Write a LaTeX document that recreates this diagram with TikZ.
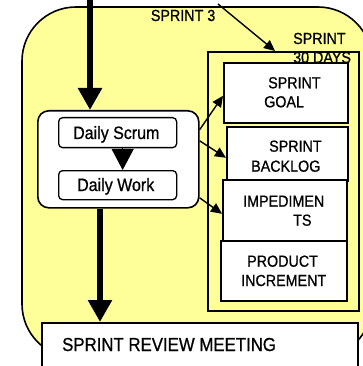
\documentclass[tikz,border=0pt]{standalone}
\usepackage{fontspec}
\setmainfont{Liberation Sans}[FakeBold=0.8]
\usetikzlibrary{arrows.meta}
\definecolor{sprintyellow}{HTML}{FFFF99}
\newcommand{\tall}[1]{\scalebox{1}[1.12]{#1}}
\begin{document}
\begin{tikzpicture}[x=1pt,y=-1pt,
  panel/.style={draw, line width=1.6pt, fill=white, inner sep=0pt, anchor=north west},
  lbl/.style={anchor=base west, inner sep=0pt, font=\fontsize{14.3}{16}\selectfont},
  thinarrow/.style={line width=1.4pt, -{Triangle[length=11pt,width=10pt]}},
  thickarrow/.style={line width=6pt, -{Triangle[length=22pt,width=23pt]}}]
\useasboundingbox (0,0) rectangle (363,366);
\clip (0,0) rectangle (363,366);

% sprint area
\draw[line width=1.6pt, fill=sprintyellow, rounded corners=54pt] (22,7) rectangle (372,358);

% 30-day sprint frame and its caption
\node[panel, fill=sprintyellow, minimum width=151pt, minimum height=259pt] (sprint) at (207,51) {};
\node[lbl] (capA) at (293,44) {\tall{SPRINT}};
\node[lbl] (capB) at (293,63) {\tall{30 DAYS}};

% artefacts
\node[panel, minimum width=124pt, minimum height=60pt] (goal) at (223,62) {};
\node[lbl] at (268,88.3) {\tall{SPRINT}};
\node[lbl] at (264,107.3) {\tall{GOAL}};

\node[panel, minimum width=121pt, minimum height=54pt] (backlog) at (226,126) {};
\node[lbl] at (269,151.7) {\tall{SPRINT}};
\node[lbl] at (251,171.7) {\tall{BACKLOG}};

\node[panel, minimum width=124pt, minimum height=61pt] (imped) at (222,179) {};
\node[lbl] at (243,206.7) {\tall{IMPEDIMEN}};
\node[lbl] at (293,225.7) {\tall{TS}};

\node[panel, minimum width=126pt, minimum height=60pt] (product) at (220,240) {};
\node[lbl] at (247,266.7) {\tall{PRODUCT}};
\node[lbl] at (241,286) {\tall{INCREMENT}};

% daily cycle
\node[panel, rounded corners=11pt, minimum width=161pt, minimum height=97pt] (daily) at (37,110) {};
\node[panel, line width=1.3pt, rounded corners=4pt, minimum width=118pt, minimum height=30pt] (scrum) at (58,117) {};
\node[lbl, font=\fontsize{16}{18}\selectfont] at (73,139) {\tall{Daily Scrum}};
\node[panel, line width=1.3pt, rounded corners=4pt, minimum width=118pt, minimum height=29pt] (work) at (58,170) {};
\node[lbl, font=\fontsize{16}{18}\selectfont] at (77,191) {\tall{Daily Work}};
\draw[line width=1pt, -{Triangle[length=21pt,width=22pt]}] ([xshift=5pt]scrum.south) -- ([xshift=5pt]work.north);

% review meeting
\node[panel, minimum width=316pt, minimum height=46pt] (review) at (41,322) {};
\node[lbl, font=\fontsize{16.8}{19}\selectfont] at (62,351) {\tall{SPRINT REVIEW MEETING}};

% sprint label with pointer to the frame
\node[lbl] (s3label) at (150.7,21) {\tall{SPRINT 3}};
\coordinate (s3) at (218,4);
\coordinate (s3end) at (275,51);
\draw[thinarrow] (s3) -- (s3end);

% main flow
\coordinate (inflow) at (90,0);
\coordinate (outflow) at (100,0);
\draw[thickarrow] (inflow) -- (inflow |- daily.north);
\draw[thickarrow] (outflow |- daily.south) -- (outflow |- review.north);

% daily work feeding the artefacts
\draw[thinarrow] ([yshift=29.5pt]daily.east) -- ([yshift=-3pt]goal.west);
\draw[thinarrow] ([yshift=18.5pt]daily.east) -- ([yshift=-4pt]backlog.west);
\draw[thinarrow] ([yshift=-38.5pt]daily.east) -- ([yshift=-3.5pt]imped.west);
\end{tikzpicture}
\end{document}
